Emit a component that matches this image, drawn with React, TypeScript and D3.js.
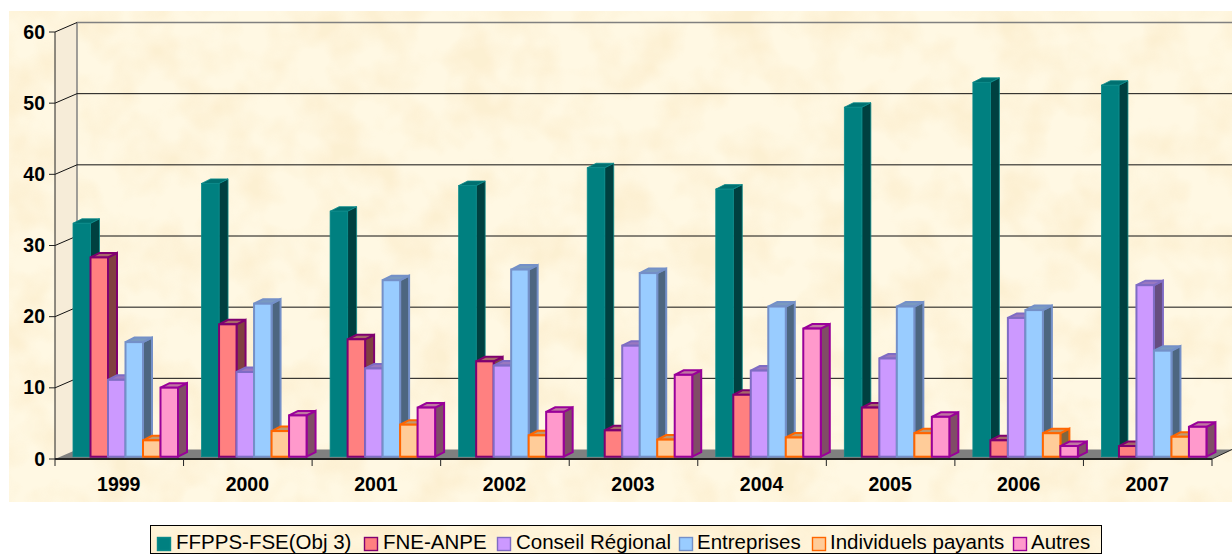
import React from 'react';
import * as d3 from 'd3';

const years = ['1999','2000','2001','2002','2003','2004','2005','2006','2007'];
const seriesNames = ['FFPPS-FSE(Obj 3)','FNE-ANPE','Conseil Régional','Entreprises','Individuels payants','Autres'];
const ffpps = [32.8,38.4,34.5,38.1,40.6,37.6,49.1,52.6,52.2];
const fne = [28,18.6,16.5,13.4,3.7,8.7,6.9,2.3,1.5];
const conseil = [10.8,11.9,12.4,12.8,15.6,12.1,13.8,19.5,24.1];
const entreprises = [16.1,21.5,24.8,26.3,25.8,21.1,21.1,20.6,14.9];
const individuels = [2.3,3.6,4.5,3,2.4,2.7,3.3,3.3,2.8];
const autres = [9.7,5.8,6.9,6.3,11.5,18,5.6,1.5,4.2];
const seriesValues = [ffpps,fne,conseil,entreprises,individuels,autres];
const yTicks = [0,10,20,30,40,50,60];
const fills = ['#008080','#ff8080','#cc99ff','#99ccff','#ffcc99','#ff99cc'];
const strokes = ['#0a8a8a','#800070','#7f6cc4','#7490c8','#ff6600','#990099'];
const sides = ['#004040','#804040','#664d80','#4d6680','#806640','#804d66'];
const tops = ['#007070','#a86868','#9a78c0','#7a9ac0','#c09a70','#c078a0'];
const legendKeyX = [157.5, 364.5, 497.5, 679.5, 812.5, 1013.5];
const legendTextX = [176, 383, 516, 697, 830, 1031];

const depth = { x: 22, y: -9.5 };
const barDepth = { x: 9, y: -4.5 };
const y = d3.scaleLinear().domain([0, 60]).range([459, 32]);
const x = d3.scaleBand().domain(years).range([55, 1212]);
const inner = d3.scaleBand().domain(seriesNames).range([0, 105]);
const groupOffset = 18;
const baseShift = -2.3;

const FONT = '"Liberation Sans", Arial, sans-serif';

export default function App() {
  const floorY = y(0);
  return (
    <svg width={1232} height={556} style={{ position: 'absolute', left: 0, top: 0, display: 'block' }}>
      <defs>
        <filter id="parch" x="0" y="0" width="100%" height="100%" colorInterpolationFilters="sRGB">
          <feTurbulence type="fractalNoise" baseFrequency="0.022" numOctaves={3} seed={7} />
          <feColorMatrix type="matrix" values="0 0 0 0 0.97  0 0 0 0 0.87  0 0 0 0 0.68  2.6 0 0 0 -1.0" />
        </filter>
      </defs>
      <rect x={0} y={0} width={1232} height={556} fill="#ffffff" />
      <rect x={9} y={11} width={1223} height={491} fill="#fff8e3" />
      <rect x={9} y={11} width={1223} height={491} filter="url(#parch)" opacity={0.3} />

      {/* left wall */}
      <polygon
        points={`55,${y(60)} ${55 + depth.x},${y(60) + depth.y} ${55 + depth.x},${floorY + depth.y} 55,${floorY}`}
        fill="#f6ecd8"
      />
      {/* floor */}
      <polygon
        points={`55,${floorY} ${55 + depth.x},${floorY + depth.y} 1232,${floorY + depth.y} 1212,${floorY}`}
        fill="#808080"
      />
      {/* back wall edges */}
      <line x1={77} x2={1232} y1={y(60) + depth.y} y2={y(60) + depth.y} stroke="#808080" strokeWidth={1.5} />
      <line x1={77} x2={77} y1={y(60) + depth.y} y2={floorY + depth.y} stroke="#808080" strokeWidth={1.5} />

      {/* gridlines */}
      {yTicks.filter(t => t > 0).map(t => (
        <g key={t} stroke="#111" strokeWidth={1} fill="none">
          <line x1={55} y1={y(t)} x2={77} y2={y(t) + depth.y} />
          {t < 60 && <line x1={77} y1={y(t) + depth.y} x2={1232} y2={y(t) + depth.y} />}
        </g>
      ))}

      {/* axes */}
      <line x1={55} x2={55} y1={y(60)} y2={floorY} stroke="#222" strokeWidth={1} />
      <line x1={55} x2={1212} y1={floorY} y2={floorY} stroke="#222" strokeWidth={2} />
      <line x1={1212} y1={floorY} x2={1232} y2={floorY + depth.y} stroke="#222" strokeWidth={1} />
      {yTicks.map(t => (
        <g key={t}>
          <line x1={49} x2={55} y1={y(t)} y2={y(t)} stroke="#222" strokeWidth={1} />
          <text x={45} y={y(t) + 6.5} textAnchor="end" fontFamily={FONT} fontWeight="bold" fontSize={19.5} fill="#000">{t}</text>
        </g>
      ))}
      {[...years.map(v => x(v)!), 1212].map((p, i) => (
        <line key={i} x1={p} x2={p} y1={floorY} y2={floorY + 7} stroke="#222" strokeWidth={1} />
      ))}
      {years.map(v => (
        <text key={v} x={x(v)! + x.bandwidth() / 2 - 0.5} y={491} textAnchor="middle" fontFamily={FONT} fontWeight="bold" fontSize={19.5} fill="#000">{v}</text>
      ))}

      {/* bars */}
      {years.map((yr, gi) => (
        <g key={yr}>
          {seriesNames.map((name, si) => {
            const v = seriesValues[si][gi];
            const l = x(yr)! + groupOffset + inner(name)!;
            const w = inner.bandwidth();
            const b = floorY + baseShift;
            const t = y(v) + baseShift;
            const dx = barDepth.x, dy = barDepth.y;
            return (
              <g key={name} stroke={strokes[si]} strokeWidth={si === 0 ? 0.8 : 2} strokeLinejoin="miter">
                <polygon points={`${l + w},${b} ${l + w + dx},${b + dy} ${l + w + dx},${t + dy} ${l + w},${t}`} fill={sides[si]} />
                <polygon points={`${l},${t} ${l + dx},${t + dy} ${l + w + dx},${t + dy} ${l + w},${t}`} fill={tops[si]} />
                <rect x={l} y={t} width={w} height={b - t} fill={fills[si]} />
              </g>
            );
          })}
        </g>
      ))}

      {/* legend */}
      <rect x={150.5} y={525.5} width={951} height={28} fill="#fff5dc" />
      <rect x={150.5} y={525.5} width={951} height={28} filter="url(#parch)" opacity={0.35} />
      <rect x={150.5} y={525.5} width={951} height={28} fill="none" stroke="#000" strokeWidth={1} />
      {seriesNames.map((n, i) => (
        <g key={n}>
          <rect x={legendKeyX[i]} y={537.5} width={13} height={13} fill={fills[i]} stroke={strokes[i]} strokeWidth={1.4} />
          <text x={legendTextX[i]} y={549} fontFamily={FONT} fontSize={20.5} fill="#000">{n}</text>
        </g>
      ))}
    </svg>
  );
}
